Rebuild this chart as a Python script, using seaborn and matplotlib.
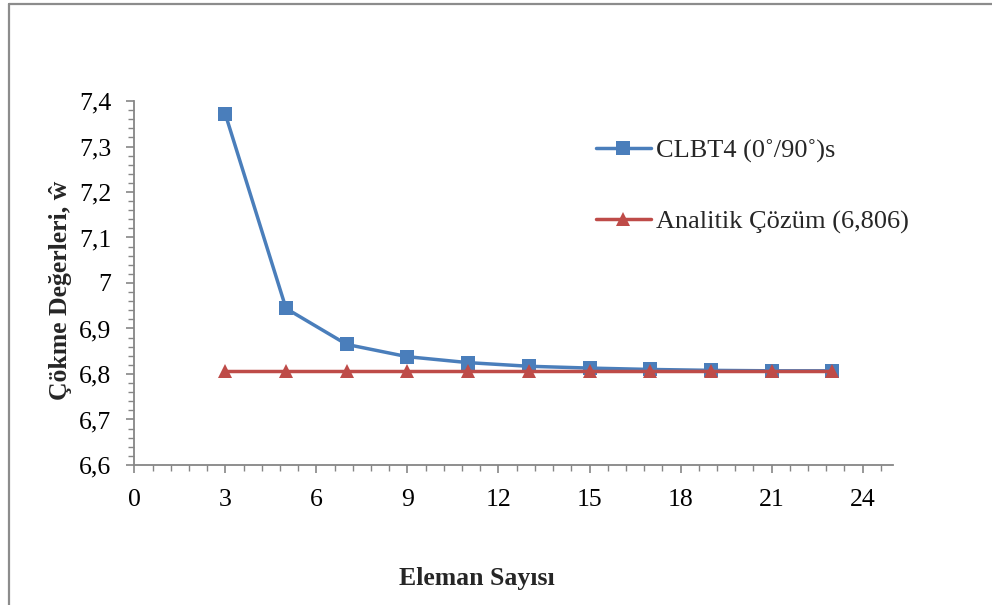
import matplotlib
matplotlib.use("Agg")
import matplotlib.pyplot as plt
from matplotlib.ticker import MultipleLocator, FuncFormatter
from matplotlib.lines import Line2D
import seaborn as sns
import pandas as pd

# Data
eleman = [3, 5, 7, 9, 11, 13, 15, 17, 19, 21, 23]
clbt4 = [7.371, 6.944, 6.865, 6.838, 6.825, 6.817, 6.813, 6.810, 6.808, 6.807, 6.807]
analitik = [6.806] * len(eleman)

label_clbt4 = "CLBT4 (0˚/90˚)s"
label_analitik = "Analitik Çözüm (6,806)"

sns.set_theme(style="white")
plt.rcParams["font.family"] = ["Liberation Serif", "DejaVu Serif"]

fig = plt.figure(figsize=(9.92, 6.05), dpi=100)
ax = fig.add_axes([134.3 / 992, 1 - 465 / 605, (893 - 134.3) / 992, (465 - 101) / 605])

blue = "#4A7EBB"
red = "#BE4B48"

df1 = pd.DataFrame({"x": eleman, "y": clbt4})
df2 = pd.DataFrame({"x": eleman, "y": analitik})
sns.lineplot(data=df1, x="x", y="y", ax=ax, color=blue, lw=2.5, marker="s",
             markersize=9.5, markeredgewidth=0, markerfacecolor=blue, zorder=3)
sns.lineplot(data=df2, x="x", y="y", ax=ax, color=red, lw=2.5, marker="^",
             markersize=10.5, markeredgewidth=0, markerfacecolor=red, zorder=4)

ax.set_xlim(0, 25)
ax.set_ylim(6.6, 7.4)
ax.xaxis.set_major_locator(MultipleLocator(3))
ax.xaxis.set_minor_locator(MultipleLocator(0.6))
ax.yaxis.set_major_locator(MultipleLocator(0.1))
ax.yaxis.set_minor_locator(MultipleLocator(0.02))

def comma_fmt(v, pos):
    s = f"{v:.1f}".rstrip("0").rstrip(".")
    return s.replace(".", ",")

ax.yaxis.set_major_formatter(FuncFormatter(comma_fmt))
ax.xaxis.set_major_formatter(FuncFormatter(lambda v, p: f"{int(round(v))}"))

grey = "#868686"
for side in ["top", "right"]:
    ax.spines[side].set_visible(False)
for side in ["left", "bottom"]:
    ax.spines[side].set_color(grey)
    ax.spines[side].set_linewidth(1.3)

ax.tick_params(axis="both", which="major", direction="out", length=6, width=1.2,
               color=grey, labelsize=18.5, labelcolor="black")
ax.tick_params(axis="both", which="minor", direction="out", length=4, width=1.0,
               color=grey)
ax.tick_params(axis="x", which="major", pad=11)
ax.tick_params(axis="y", which="major", pad=10.5)
ax.tick_params(axis="both", which="both", bottom=True, left=True)
ax.grid(False)
ax.set_xlabel("")
ax.set_ylabel("")

fig.text(60 / 992, 1 - 290 / 605, "Çökme Değerleri, ŵ", rotation=90,
         ha="center", va="center", fontsize=18.5, fontweight="bold")
fig.text(477 / 992, 1 - 578 / 605, "Eleman Sayısı", ha="center", va="center",
         fontsize=18.5, fontweight="bold")

handles = [
    Line2D([], [], color=blue, lw=2.5, marker="s", markersize=9.5, markeredgewidth=0),
    Line2D([], [], color=red, lw=2.5, marker="^", markersize=10.5, markeredgewidth=0),
]
fig.legend(handles, [label_clbt4, label_analitik], loc="upper left",
           bbox_to_anchor=(596 / 992, 1 - 139 / 605), frameon=False,
           fontsize=19, handlelength=2.08, handletextpad=0.2, labelspacing=1.78,
           borderaxespad=0, borderpad=0)

# Chart-area frame (left and top edges)
fig.add_artist(Line2D([8.5 / 992, 8.5 / 992], [0, 1 - 3.5 / 605], transform=fig.transFigure,
                      color="#8C8C8C", lw=1.6))
fig.add_artist(Line2D([8.5 / 992, 1], [1 - 3.5 / 605, 1 - 3.5 / 605], transform=fig.transFigure,
                      color="#8C8C8C", lw=1.6))

fig.savefig("out.png", dpi=100, facecolor="white")
